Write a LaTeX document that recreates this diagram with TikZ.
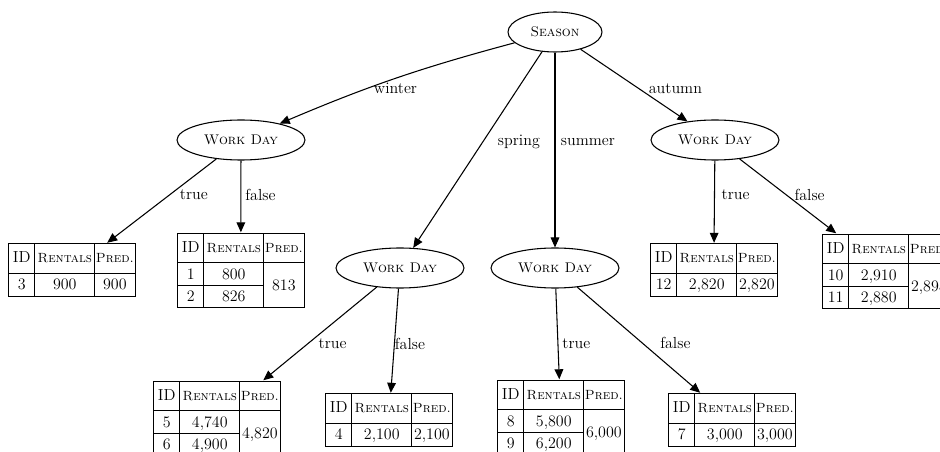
\documentclass[tikz,border=0pt]{standalone}
\usepackage{array}
\usetikzlibrary{arrows.meta,shapes.geometric}
\setlength{\tabcolsep}{0pt}
\setlength{\arrayrulewidth}{0.8pt}
\renewcommand{\arraystretch}{0}
\newcolumntype{P}[1]{>{\centering\arraybackslash}p{#1}}
\newcommand{\hstrut}{\rule[-7.5pt]{0pt}{21.5pt}}
\newcommand{\dstrut}{\rule[-4.4pt]{0pt}{16.5pt}}
\newcommand{\hsc}[1]{{\fontsize{10}{12}\selectfont\textsc{#1}}}
\newcommand{\tabhead}{ID\hstrut & \hsc{Rentals} & \hsc{Pred.}\\ \hline}
\newcommand{\onerow}[3]{\begin{tabular}{|P{19pt}|P{44pt}|P{29.5pt}|}\hline
  \tabhead #1\dstrut & #2 & #3\\ \hline\end{tabular}}
\newcommand{\tworow}[5]{\begin{tabular}{|P{19pt}|P{44pt}|P{29.5pt}|}\hline
  \tabhead #1\dstrut & #2 & \raisebox{-8.6pt}[0pt][0pt]{#5}\\ \cline{1-2}
  #3\dstrut & #4 & \\ \hline\end{tabular}}
\begin{document}
\begin{tikzpicture}[x=0.75pt,y=-0.75pt,
  every node/.style={font=\fontsize{12}{14}\selectfont},
  split/.style={draw,ellipse,line width=0.8pt,inner sep=0pt,minimum width=96pt,
    minimum height=30pt,font=\fontsize{10.5}{12}\selectfont\scshape},
  leaf/.style={inner sep=0pt,font=\fontsize{12}{14}\selectfont},
  edge/.style={-{Triangle[length=7.5pt,width=6.5pt]},line width=0.8pt},
  lbl/.style={inner sep=1pt,anchor=west}]
\useasboundingbox (0,0) rectangle (940,452);
\clip (0,0) rectangle (940,452);
% splits
\node[split,minimum width=70.5pt] (season) at (555,32) {Season};
\node[split] (wdw) at (241,140) {Work Day};
\node[split] (wda) at (715,140) {Work Day};
\node[split] (wdsp) at (400,268) {Work Day};
\node[split] (wdsu) at (555,268) {Work Day};
% leaves
\node[leaf] (t3) at (71.8,270) {\onerow{3}{900}{900}};
\node[leaf] (t12) at (240.8,270.5) {\tworow{1}{800}{2}{826}{813}};
\node[leaf] (t12a) at (713.8,270) {\onerow{12}{2,820}{2,820}};
\node[leaf] (t1011) at (885.8,271.5) {\tworow{10}{2,910}{11}{2,880}{2,895}};
\node[leaf] (t56) at (216.8,418.5) {\tworow{5}{4,740}{6}{4,900}{4,820}};
\node[leaf] (t4) at (388.8,420) {\onerow{4}{2,100}{2,100}};
\node[leaf] (t89) at (560.8,417.5) {\tworow{8}{5,800}{9}{6,200}{6,000}};
\node[leaf] (t7) at (731.8,420) {\onerow{7}{3,000}{3,000}};
% season
\draw[edge] (season) to[bend right=4] node[inner sep=1pt,pos=0.5,below=2pt] {winter} (wdw);
\draw[edge] (season) -- node[lbl,pos=0.46,xshift=10pt] {spring} (wdsp);
\draw[edge] (season) -- node[lbl,pos=0.46,xshift=3pt] {summer} (wdsu);
\draw[edge] (season) -- node[lbl,pos=0.54,xshift=6.5pt] {autumn} (wda);
% work day
\draw[edge] (wdw) -- node[lbl,pos=0.43,xshift=6.5pt] {true} (t3);
\draw[edge] (wdw) -- node[lbl,pos=0.48,xshift=2pt] {false} (t12);
\draw[edge] (wda) -- node[lbl,pos=0.41,xshift=4pt] {true} (t12a);
\draw[edge] (wda) -- node[lbl,pos=0.48,xshift=5pt] {false} (t1011);
\draw[edge] (wdsp) -- node[lbl,pos=0.61,xshift=7pt] {true} (t56);
\draw[edge] (wdsp) -- node[lbl,pos=0.53,xshift=-1pt] {false} (t4);
\draw[edge] (wdsu) -- node[lbl,pos=0.61,xshift=2pt] {true} (t89);
\draw[edge] (wdsu) -- node[lbl,pos=0.53,xshift=12pt] {false} (t7);
\end{tikzpicture}
\end{document}
